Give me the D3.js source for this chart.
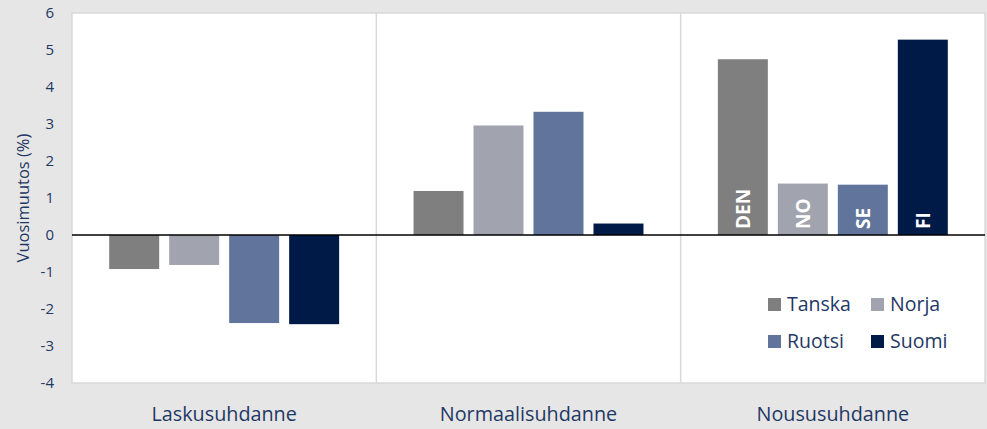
<!DOCTYPE html>
<html>
<head>
<meta charset="utf-8">
<script src="https://cdn.jsdelivr.net/npm/d3@7"></script>
<style>
  html, body { margin: 0; padding: 0; background: #e6e6e6; }
  svg { display: block; }
  text { font-family: "Open Sans", "Noto Sans", sans-serif; }
</style>
</head>
<body>
<svg id="chart" width="987" height="429"></svg>
<script>
// ---- data ----
const categories = ["Laskusuhdanne", "Normaalisuhdanne", "Noususuhdanne"];
const seriesNames = ["Tanska", "Norja", "Ruotsi", "Suomi"];
const seriesCodes = ["DEN", "NO", "SE", "FI"];
const tanska = [-0.92, 1.19, 4.75];
const norja  = [-0.81, 2.96, 1.39];
const ruotsi = [-2.38, 3.33, 1.36];
const suomi  = [-2.41, 0.31, 5.28];
const yTicks = [-4, -3, -2, -1, 0, 1, 2, 3, 4, 5, 6];
const yTitle = "Vuosimuutos (%)";
const colors = ["#7f7f7f", "#a1a3ae", "#61759c", "#001a48"];

const seriesValues = [tanska, norja, ruotsi, suomi];

// ---- layout ----
const svg = d3.select("#chart");
const W = 987, H = 429;
const plot = { left: 72, top: 13, right: 985, bottom: 383 };
const navy = "#1f3864";

svg.append("rect").attr("width", W).attr("height", H).attr("fill", "#e6e6e6");

const x0 = d3.scaleBand().domain(categories).range([plot.left, plot.right]).padding(0);
const x1 = d3.scaleBand().domain(seriesNames).range([0, x0.bandwidth()])
  .paddingInner(0.1667).paddingOuter(0.62);
const y = d3.scaleLinear().domain([-4, 6]).range([plot.bottom, plot.top]);

// plot area
svg.append("rect")
  .attr("x", plot.left).attr("y", plot.top)
  .attr("width", plot.right - plot.left).attr("height", plot.bottom - plot.top)
  .attr("fill", "#ffffff").attr("stroke", "#d9d9d9").attr("stroke-width", 1.5);

// category separators
svg.append("g").selectAll("line")
  .data(categories.slice(1))
  .join("line")
  .attr("x1", d => x0(d)).attr("x2", d => x0(d))
  .attr("y1", plot.top).attr("y2", plot.bottom)
  .attr("stroke", "#d9d9d9").attr("stroke-width", 1.5);

// bars
const barData = [];
categories.forEach((c, ci) => {
  seriesNames.forEach((s, si) => {
    barData.push({ cat: c, ci, series: s, si, value: seriesValues[si][ci] });
  });
});

svg.append("g").selectAll("rect")
  .data(barData)
  .join("rect")
  .attr("x", d => x0(d.cat) + x1(d.series))
  .attr("width", x1.bandwidth())
  .attr("y", d => y(Math.max(0, d.value)))
  .attr("height", d => Math.abs(y(d.value) - y(0)))
  .attr("fill", d => colors[d.si]);

// zero line
svg.append("line")
  .attr("x1", plot.left).attr("x2", plot.right)
  .attr("y1", y(0)).attr("y2", y(0))
  .attr("stroke", "#000").attr("stroke-width", 1.5);

// in-bar codes (last category)
const lastCat = categories[categories.length - 1];
svg.append("g").selectAll("text")
  .data(seriesCodes)
  .join("text")
  .attr("transform", (d, i) => {
    const cx = x0(lastCat) + x1(seriesNames[i]) + x1.bandwidth() / 2;
    const cy = y(0) - 6;
    return `translate(${cx},${cy}) rotate(-90)`;
  })
  .attr("text-anchor", "start")
  .attr("dominant-baseline", "central")
  .attr("fill", "#ffffff")
  .attr("font-weight", "bold")
  .attr("font-size", 19)
  .text(d => d);

// y axis (no line, labels only)
const yAxis = d3.axisLeft(y).tickValues(yTicks).tickSize(0).tickPadding(0).tickFormat(d => String(d));
const gy = svg.append("g").attr("transform", `translate(${plot.left - 18},0)`).call(yAxis);
gy.select(".domain").remove();
gy.selectAll("text").attr("fill", navy).attr("font-size", 15)
  .attr("font-family", "'Open Sans', sans-serif");

// y title
svg.append("text")
  .attr("transform", `translate(22,${y(1)}) rotate(-90)`)
  .attr("text-anchor", "middle")
  .attr("dominant-baseline", "central")
  .attr("fill", navy)
  .attr("font-size", 16.5)
  .text(yTitle);

// x axis category labels
svg.append("g").selectAll("text")
  .data(categories)
  .join("text")
  .attr("x", d => x0(d) + x0.bandwidth() / 2)
  .attr("y", 421)
  .attr("text-anchor", "middle")
  .attr("fill", navy)
  .attr("font-size", 19.8)
  .text(d => d);

// legend
const legend = svg.append("g").attr("transform", "translate(768,298)");
const items = legend.selectAll("g")
  .data(seriesNames)
  .join("g")
  .attr("transform", (d, i) => `translate(${(i % 2) * 103},${Math.floor(i / 2) * 37})`);
items.append("rect").attr("width", 13).attr("height", 13).attr("fill", (d, i) => colors[i]);
items.append("text")
  .attr("x", 19).attr("y", 13)
  .attr("fill", navy)
  .attr("font-size", 19.5)
  .text(d => d);
</script>
</body>
</html>
